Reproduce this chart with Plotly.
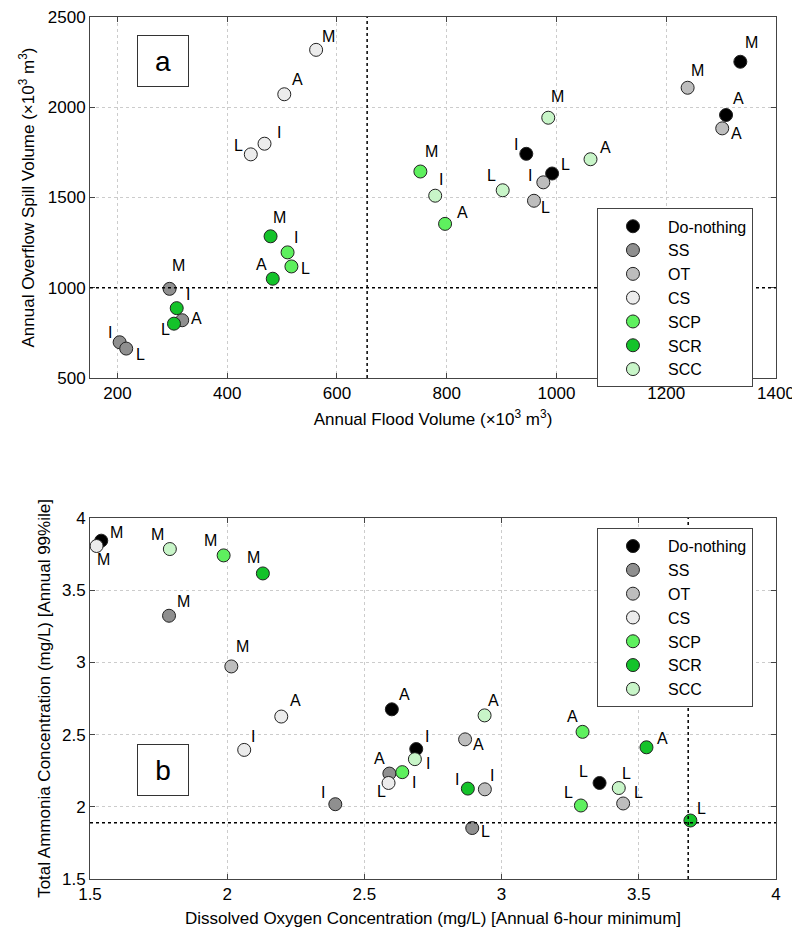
import plotly.graph_objects as go

# ---------------- data ----------------
strategies = ["Do-nothing", "SS", "OT", "CS", "SCP", "SCR", "SCC"]
scenarios = ["M", "A", "I", "L"]

# panel a: rows = strategies, cols = scenarios (M, A, I, L)
flood_volume = [
    [1335, 1309, 945, 992],
    [295, 318, 204, 216],
    [1239, 1302, 976, 959],
    [562, 504, 468, 443],
    [752, 797, 510, 517],
    [479, 483, 308, 303],
    [985, 1062, 779, 902],
]
spill_volume = [
    [2252, 1957, 1742, 1633],
    [994, 820, 698, 663],
    [2108, 1883, 1584, 1482],
    [2318, 2072, 1798, 1739],
    [1644, 1354, 1196, 1118],
    [1285, 1050, 887, 801],
    [1942, 1712, 1510, 1540],
]
flood_threshold = 655
spill_threshold = 1000

# panel b
do_conc = [
    [1.541, 2.600, 2.689, 3.357],
    [1.788, 2.591, 2.394, 2.893],
    [2.015, 2.867, 2.939, 3.443],
    [1.524, 2.197, 2.062, 2.588],
    [1.987, 3.295, 2.638, 3.289],
    [2.130, 3.528, 2.877, 3.688],
    [1.791, 2.938, 2.684, 3.427],
]
nh3_conc = [
    [3.843, 2.675, 2.400, 2.165],
    [3.323, 2.230, 2.018, 1.853],
    [2.972, 2.467, 2.121, 2.023],
    [3.806, 2.625, 2.394, 2.165],
    [3.741, 2.519, 2.240, 2.009],
    [3.616, 2.412, 2.126, 1.905],
    [3.785, 2.633, 2.330, 2.130],
]
do_threshold = 3.68
nh3_threshold = 1.89

# ---------------- styles ----------------
colors = ["#000000", "#8f8f8f", "#bdbdbd", "#ececec", "#5ef05e", "#14c32a", "#c8f5c8"]

# label pixel offsets (dx right, dy down) per strategy / scenario
label_off_a = [
    [(11, -19), (12, -17), (-10, -9), (13, -9)],
    [(9, -23), (14, -2), (-10, -10), (14, 6)],
    [(10, -17), (14, 5), (-13, -7), (12, 7)],
    [(12, -13), (13, -15), (14, -11), (-12, -9)],
    [(11, -20), (17, -11), (8, -15), (14, 2)],
    [(9, -19), (-11, -14), (11, -14), (-8, 6)],
    [(9, -21), (15, -12), (6, -16), (-11, -15)],
]
label_off_b = [
    [(15, -8), (13, -15), (11, -13), (-16, -11)],
    [(14, -14), (-10, -15), (-12, -12), (13, 3)],
    [(11, -20), (13, 5), (7, -14), (15, -11)],
    [(7, 13), (14, -16), (9, -13), (-7, 9)],
    [(-13, -15), (-10, -15), (12, 10), (-12, -13)],
    [(-9, -16), (16, -9), (-11, -9), (11, -12)],
    [(-12, -15), (9, -15), (13, 4), (8, -15)],
]

FONT = "Arial, Liberation Sans, sans-serif"
fig = go.Figure()

for i, name in enumerate(strategies):
    fig.add_trace(go.Scatter(
        x=flood_volume[i], y=spill_volume[i], mode="markers", name=name,
        marker=dict(size=13, color=colors[i], line=dict(color="#222222", width=1)),
        xaxis="x", yaxis="y", legend="legend"))
    fig.add_trace(go.Scatter(
        x=do_conc[i], y=nh3_conc[i], mode="markers", name=name,
        marker=dict(size=13, color=colors[i], line=dict(color="#222222", width=1)),
        xaxis="x2", yaxis="y2", legend="legend2"))

# scenario labels
for i in range(len(strategies)):
    for j, sc in enumerate(scenarios):
        dx, dy = label_off_a[i][j]
        fig.add_annotation(x=flood_volume[i][j], y=spill_volume[i][j], xref="x", yref="y",
                           text=sc, showarrow=False, xshift=dx, yshift=-dy,
                           font=dict(size=16, color="black", family=FONT))
        dx, dy = label_off_b[i][j]
        fig.add_annotation(x=do_conc[i][j], y=nh3_conc[i][j], xref="x2", yref="y2",
                           text=sc, showarrow=False, xshift=dx, yshift=-dy,
                           font=dict(size=16, color="black", family=FONT))

axis_common = dict(
    showline=True, linecolor="#444444", linewidth=1, mirror="ticks",
    ticks="inside", ticklen=5, tickcolor="#444444",
    showgrid=True, gridcolor="#cccccc", griddash="dot", gridwidth=1,
    zeroline=False, automargin=False, ticklabeloverflow="allow",
    tickfont=dict(size=17, color="black", family=FONT),
    title_font=dict(size=17, color="black", family=FONT),
)

ya_dom = [0.5812, 1.0]
yb_dom = [0.0, 0.4188]

# the page body adds an 8px offset, so the figure is 8px smaller on each axis
fig.update_layout(
    width=792, height=920,
    margin=dict(l=82, r=24, t=9, b=49),
    paper_bgcolor="white", plot_bgcolor="white",
    font=dict(family=FONT, color="black"),
    xaxis=dict(domain=[0, 1], range=[150, 1400], dtick=200, anchor="y",
               title=dict(text="Annual Flood Volume (×10<sup>3</sup> m<sup>3</sup>)", standoff=10),
               **axis_common),
    yaxis=dict(domain=ya_dom, range=[500, 2500], dtick=500, anchor="x",
               title=dict(text="Annual Overflow Spill Volume (×10<sup>3</sup> m<sup>3</sup>)", standoff=8),
               **axis_common),
    xaxis2=dict(domain=[0, 1], range=[1.5, 4], dtick=0.5, anchor="y2",
                title=dict(text="Dissolved Oxygen Concentration (mg/L) [Annual 6-hour minimum]", standoff=8),
                **axis_common),
    yaxis2=dict(domain=yb_dom, range=[1.5, 4], dtick=0.5, anchor="x2",
                title=dict(text="Total Ammonia Concentration (mg/L) [Annual 99%ile]", standoff=6),
                **axis_common),
    legend=dict(x=0.739, y=0.778, xanchor="left", yanchor="top",
                bgcolor="white", bordercolor="#444444", borderwidth=1,
                font=dict(size=16, family=FONT), itemwidth=60, tracegroupgap=0),
    legend2=dict(x=0.739, y=0.407, xanchor="left", yanchor="top",
                 bgcolor="white", bordercolor="#444444", borderwidth=1,
                 font=dict(size=16, family=FONT), itemwidth=60, tracegroupgap=0),
    showlegend=True,
)

# threshold lines
line_style = dict(color="black", width=1.5, dash="dot")
fig.add_shape(type="line", xref="x", yref="y domain", x0=flood_threshold, x1=flood_threshold, y0=0, y1=1, line=line_style)
fig.add_shape(type="line", xref="x domain", yref="y", x0=0, x1=1, y0=spill_threshold, y1=spill_threshold, line=line_style)
fig.add_shape(type="line", xref="x2", yref="y2 domain", x0=do_threshold, x1=do_threshold, y0=0, y1=1, line=line_style)
fig.add_shape(type="line", xref="x2 domain", yref="y2", x0=0, x1=1, y0=nh3_threshold, y1=nh3_threshold, line=line_style)

# panel letters
for letter, xr, yr, yy in [("a", "x domain", "y domain", 0.878), ("b", "x2 domain", "y2 domain", 0.302)]:
    fig.add_annotation(text=letter, xref=xr, yref=yr, x=0.106, y=yy, showarrow=False,
                       xanchor="center", yanchor="middle",
                       font=dict(size=28, family=FONT, color="black"),
                       bordercolor="#333333", borderwidth=1, borderpad=1,
                       width=48, height=48, bgcolor="white")

fig.write_html("out.html")
